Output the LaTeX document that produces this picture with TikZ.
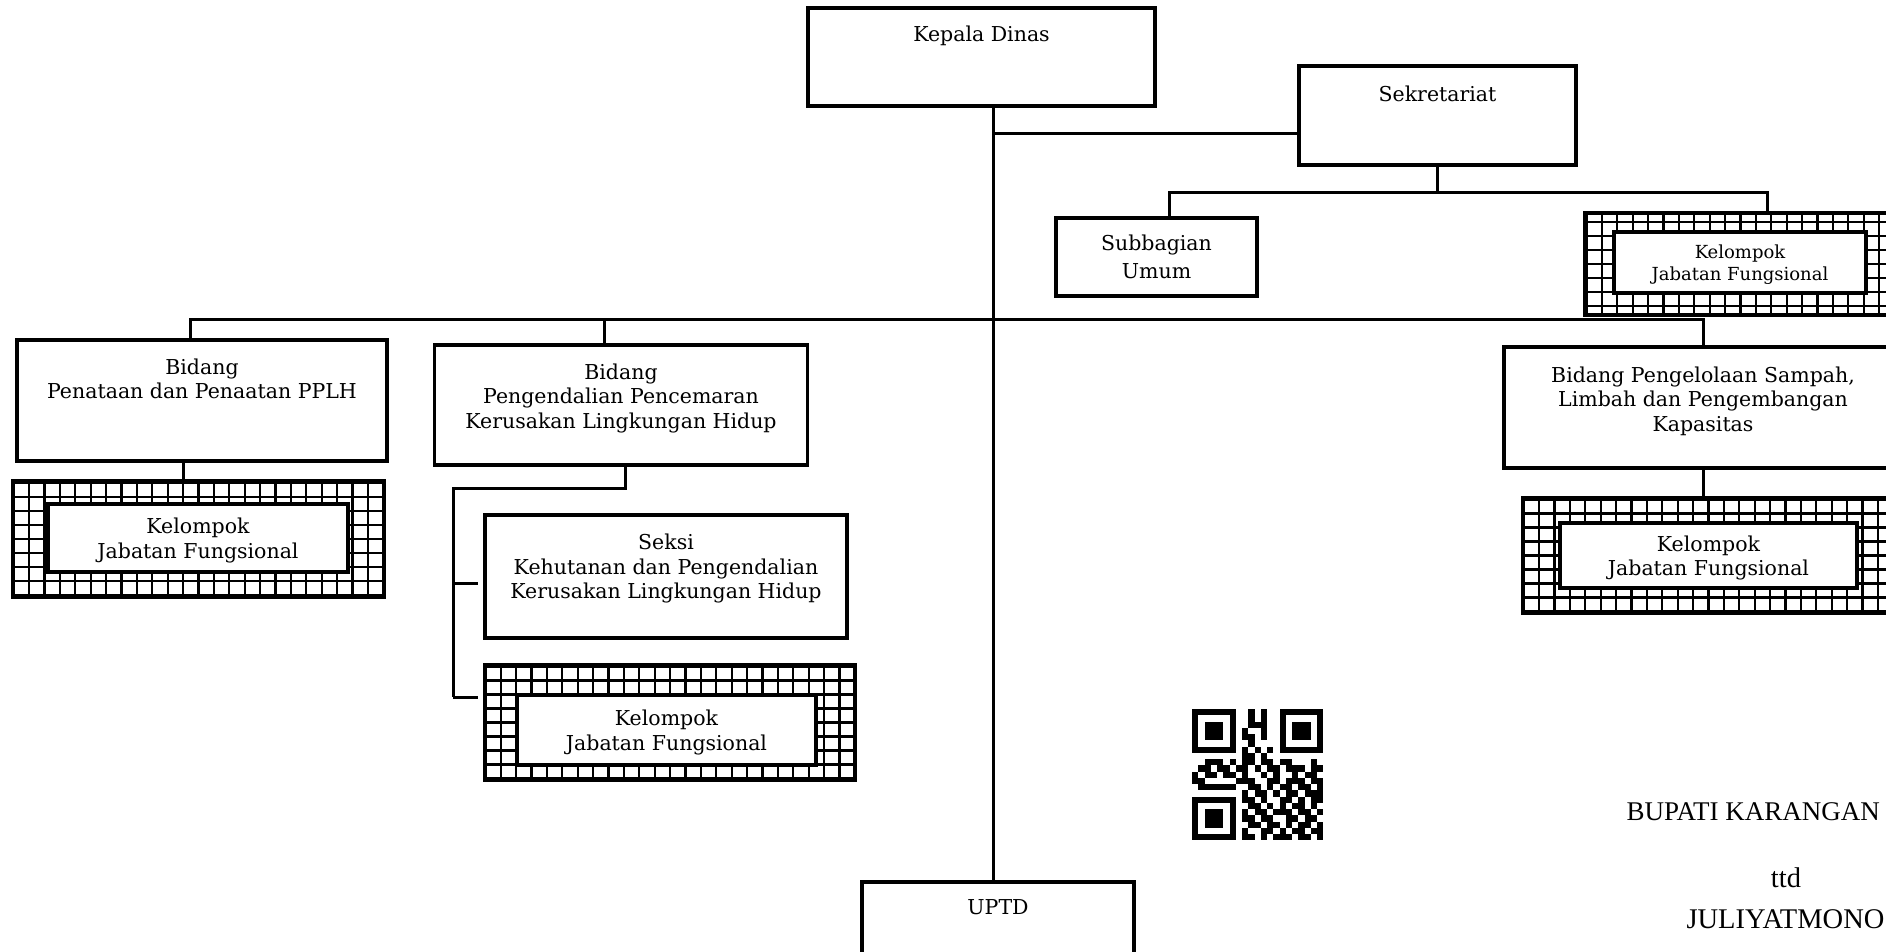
\documentclass[tikz,border=0pt]{standalone}
\usepackage{fontspec}
\setmainfont{DejaVu Serif}
\newfontfamily\ttdfamily{Liberation Serif}
\usepackage{tikz}
\usetikzlibrary{positioning}
\newcommand{\boxfont}{\fontsize{20.5}{24.5}\selectfont}
\newcommand{\smallboxfont}{\fontsize{18}{22}\selectfont}
\newcommand{\ttdfont}{\ttdfamily\fontsize{28.5}{31}\selectfont}

\begin{document}
\begin{tikzpicture}[x=1pt, y=-1pt, line width=3pt,
box node/.style={draw, rectangle, line width=3.2pt, inner sep=0pt},
grid node/.style={draw, rectangle, line width=3.6pt, inner sep=0pt,
  path picture={\draw[line width=2.2pt] ([shift={(-30pt,-30pt)}]path picture bounding box.south west)
    grid[xstep=15.4pt, ystep=14pt] ([shift={(30pt,30pt)}]path picture bounding box.north east);}},
inner node/.style={draw, rectangle, fill=white, line width=3.4pt, inner sep=0pt, align=center, font=\boxfont, text depth=-5pt},
text node/.style={align=center, inner sep=0pt, anchor=north, font=\boxfont},
ttd node/.style={inner sep=0pt, font=\ttdfont}]
\useasboundingbox (0,0) rectangle (1886,951);

% kepala dinas & sekretariat
\node[box node, minimum width=347pt, minimum height=98pt] (kd) at (981.5,57) {};
\node[text node, below=18pt of kd.north] (kdt) {Kepala Dinas};
\node[box node, minimum width=277pt, minimum height=99pt] (sek) at (1437.5,115.5) {};
\node[text node, below=20pt of sek.north] (sekt) {Sekretariat};
\node[box node, minimum width=201pt, minimum height=78pt, align=center, font=\boxfont] (sub) at (1156.5,257) {Subbagian\\[4pt]Umum};
\node[grid node, minimum width=311pt, minimum height=102pt] (kj1) at (1740.5,264) {};
\node[inner node, minimum width=252pt, minimum height=61pt, font=\smallboxfont] (kj1i) at (1740,262.5) {Kelompok\\Jabatan Fungsional};

% bidang
\node[box node, minimum width=370pt, minimum height=121pt] (b1) at (202,400.5) {};
\node[text node, below=19pt of b1.north] (b1t) {Bidang\\Penataan dan Penaatan PPLH};
\node[grid node, minimum width=371pt, minimum height=116pt] (k1) at (198.5,539) {};
\node[inner node, minimum width=300pt, minimum height=68pt] (k1i) at (198,538) {Kelompok\\Jabatan Fungsional};

\node[box node, minimum width=373pt, minimum height=120pt] (b2) at (621,405) {};
\node[text node, below=19pt of b2.north] (b2t) {Bidang\\Pengendalian Pencemaran\\Kerusakan Lingkungan Hidup};
\node[box node, minimum width=362pt, minimum height=123pt] (sks) at (666,576.5) {};
\node[text node, below=19.5pt of sks.north] (skst) {Seksi\\Kehutanan dan Pengendalian\\Kerusakan Lingkungan Hidup};
\node[grid node, minimum width=370pt, minimum height=115pt] (k2) at (670,722.5) {};
\node[inner node, minimum width=299pt, minimum height=70pt] (k2i) at (666.5,730) {Kelompok\\Jabatan Fungsional};

\node[box node, minimum width=398pt, minimum height=121pt] (b3) at (1703,407.5) {};
\node[text node, below=20pt of b3.north] (b3t) {Bidang Pengelolaan Sampah,\\Limbah dan Pengembangan\\Kapasitas};
\node[grid node, minimum width=371pt, minimum height=115pt] (k3) at (1708.5,555.5) {};
\node[inner node, minimum width=297pt, minimum height=65pt] (k3i) at (1708.5,555.5) {Kelompok\\Jabatan Fungsional};

\node[box node, minimum width=272pt, minimum height=120pt] (uptd) at (998,942) {};
\node[text node, below=18pt of uptd.north] (uptdt) {UPTD};

% lines
\coordinate (trunk) at (993,133);
\coordinate (sbar) at (1169,192);
\coordinate (sbarR) at (1767,192);
\coordinate (mbarL) at (190,319);
\coordinate (mbarR) at (1703,319);
\coordinate (mb2) at (604,319);
\coordinate (d1) at (183,470);
\coordinate (c1) at (625,488);
\coordinate (c2) at (453,488);
\coordinate (c3) at (453,583);
\coordinate (c4) at (453,697);
\draw (trunk |- kd.south) -- (trunk |- uptd.north);
\draw (trunk) -- (trunk -| sek.west);
\draw (sek.south) -- (sek.south |- sbar);
\draw (sub.north -| sbar) |- (sbarR) -- (sbarR |- kj1.north);
\draw (b1.north -| mbarL) |- (mbarR) -- (mbarR |- b3.north);
\draw (mb2) -- (mb2 |- b2.north);
\draw (d1 |- b1.south) -- (d1 |- k1.north);
\draw (mbarR |- b3.south) -- (mbarR |- k3.north);
\draw (c1 |- b2.south) -- (c1) -- (c2) -- (c4);
\draw[shorten >=5pt] (c3) -- (c3 -| sks.west);
\draw[shorten >=5pt] (c4) -- (c4 -| k2.west);

% qr code
\foreach \fx/\fy in {0/0,14/0,0/14}{
  \fill ({1192+\fx*6.25},{709+\fy*6.25}) rectangle +(43.75,43.75);
  \fill[white] ({1192+(\fx+1)*6.25},{709+(\fy+1)*6.25}) rectangle +(31.25,31.25);
  \fill ({1192+(\fx+2)*6.25},{709+(\fy+2)*6.25}) rectangle +(18.75,18.75);
}
\foreach \r/\cols in {0/{9,11},1/{9,11},2/{9,10,11},3/{8,11},4/{8,9,11},5/{9},6/{8,10,12},7/{8,9,11},
  8/{2,3,4,6,8,9,11,12,14,15,19},9/{1,2,4,5,7,8,10,12,13,15,16,17,19,20},
  10/{0,2,3,5,6,8,11,13,16,18,19},11/{0,1,7,8,9,12,13,15,16,17,19,20},
  12/{1,2,3,4,5,6,9,10,12,14,15,17,18,20},13/{8,10,11,13,15,16,18,19,20},
  14/{8,9,11,14,15,17,19,20},15/{9,10,12,14,16,17,19},16/{8,10,11,13,14,15,17,18,20},
  17/{8,9,11,12,15,16,18,19},18/{9,10,12,13,15,17,18,20},19/{8,11,12,14,16,17,19,20},
  20/{8,9,11,13,14,15,17,18,20}}
  \foreach \c in \cols
    \fill ({1192+\c*6.25},{709+\r*6.25}) rectangle +(6.25,6.25);

% tanda tangan
\node[ttd node, anchor=west, font=\ttdfamily\fontsize{27}{30}\selectfont] (bup) at (1625,812) {BUPATI KARANGAN};
\node[ttd node] (ttd) at (1786,878) {ttd};
\node[ttd node, anchor=west] (jul) at (1685,919) {JULIYATMONO};
\end{tikzpicture}
\end{document}
